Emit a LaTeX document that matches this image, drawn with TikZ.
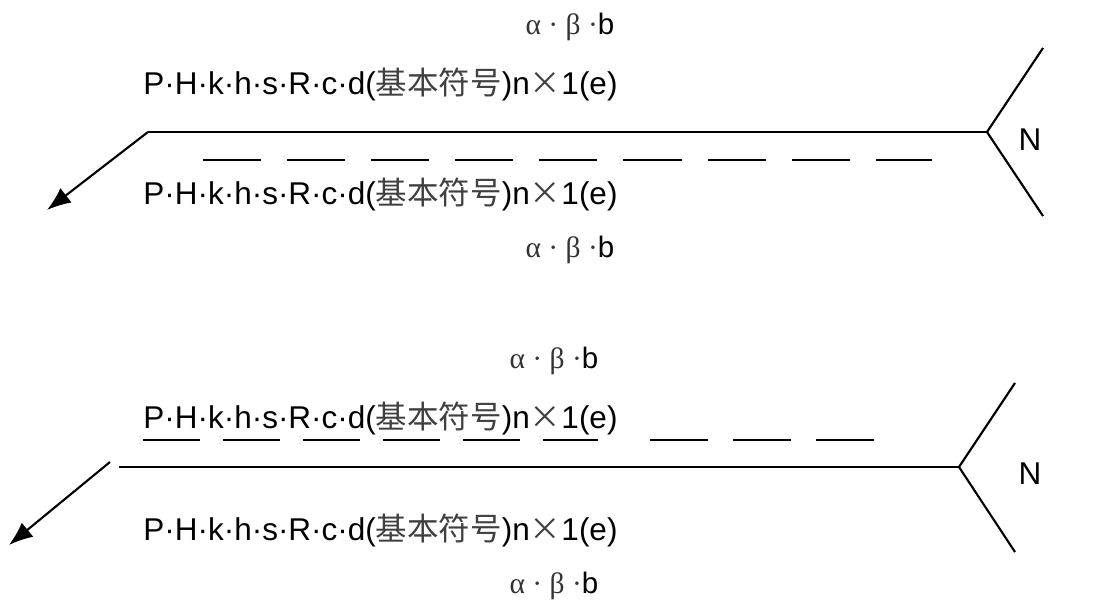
\documentclass[tikz,border=0pt]{standalone}
\usepackage{fontspec}
\setmainfont{Liberation Sans}
\newfontfamily\cjk{Noto Sans CJK SC}
\newfontfamily\greek{Liberation Serif}
\usetikzlibrary{arrows.meta}

\newcommand{\codetext}{P·H·k·h·s·R·c·d({\cjk\color{black!75}基本符号})n{\cjk\color{black!75}×}1(e)}
\newcommand{\anglelabel}{{\greek\color{black!80}α · β ·}b}

\tikzset{
  codelabel/.style={anchor=west, inner sep=0pt, font=\fontsize{22.4}{24}\selectfont},
  anglelbl/.style={inner sep=0pt, font=\fontsize{21}{23}\selectfont},
  refline/.style={line width=1.5pt},
  tickline/.style={line width=2pt},
  leader/.style={line width=1.5pt, -{Latex[length=17pt,width=13pt]}}
}

\begin{document}
\begin{tikzpicture}[x=0.025cm, y=-0.025cm]
\useasboundingbox (0,0) rectangle (1105,603);

%%%%%%%%%%%%%%%%%%%%%%%%%%%%%%%%%%%%%%%%%%%%%%%%%%%%%%%%%%%%%%%%
% Upper symbol
%%%%%%%%%%%%%%%%%%%%%%%%%%%%%%%%%%%%%%%%%%%%%%%%%%%%%%%%%%%%%%%%

% reference line and tail
\coordinate (ua) at (148,132);
\coordinate (ub) at (987,132);
\coordinate (utip) at (47,210);
\coordinate (uup) at (1043,48);
\coordinate (udn) at (1043,216);
\draw [refline] (ua) -- (ub);
\draw [refline] (uup) -- (ub) -- (udn);
\draw [leader] (ua) -- (utip);
\node (un) at (1030,140) {\fontsize{22.4}{24}\selectfont N};

% dashed line
\draw [tickline, dash pattern=on 41.3pt off 18.5pt] (203,160) -- (932,160);

% texts
\node [anglelbl] (uang1) at (570,27) {\anglelabel};
\node [codelabel] (ucode1) at (143,84) {\codetext};
\node [codelabel] (ucode2) at (143,194) {\codetext};
\node [anglelbl] (uang2) at (570,250) {\anglelabel};

%%%%%%%%%%%%%%%%%%%%%%%%%%%%%%%%%%%%%%%%%%%%%%%%%%%%%%%%%%%%%%%%
% Lower symbol
%%%%%%%%%%%%%%%%%%%%%%%%%%%%%%%%%%%%%%%%%%%%%%%%%%%%%%%%%%%%%%%%

% reference line and tail
\coordinate (la) at (119,467);
\coordinate (lb) at (959,467);
\coordinate (lstart) at (110,462);
\coordinate (ltip) at (9,545);
\coordinate (lup) at (1015,383);
\coordinate (ldn) at (1015,552);
\draw [refline] (la) -- (lb);
\draw [refline] (lup) -- (lb) -- (ldn);
\draw [leader] (lstart) -- (ltip);
\node (ln) at (1030,474) {\fontsize{22.4}{24}\selectfont N};

% dashed line
\draw [tickline, dash pattern=on 40.5pt off 16.4pt] (143,440) -- (598,440);
\draw [tickline, dash pattern=on 41.3pt off 17.8pt] (650,440) -- (876,440);

% texts
\node [anglelbl] (lang1) at (554,361) {\anglelabel};
\node [codelabel] (lcode1) at (143,418) {\codetext};
\node [codelabel] (lcode2) at (143,530) {\codetext};
\node [anglelbl] (lang2) at (554,586) {\anglelabel};

\end{tikzpicture}
\end{document}
